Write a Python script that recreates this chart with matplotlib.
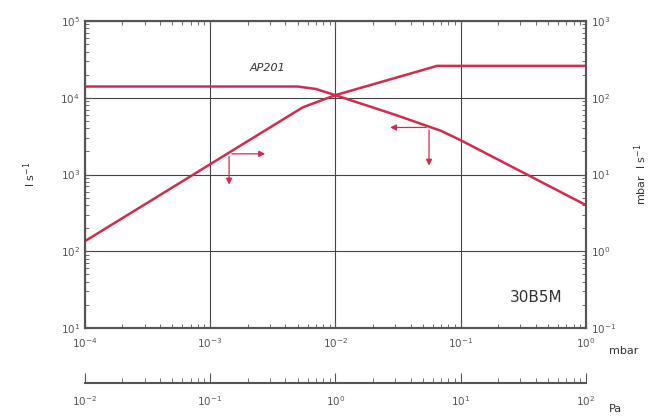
import matplotlib
matplotlib.use("Agg")
import matplotlib.pyplot as plt
from matplotlib.ticker import LogLocator, NullFormatter
import numpy as np

# pumping speed S (l/s), read on the left axis
p_speed = [1e-4, 5e-3, 7e-3, 1e-2, 3e-2, 7e-2, 1e-1, 1e0]
speed = [1.4e4, 1.4e4, 1.3e4, 1.08e4, 6.0e3, 3.7e3, 2.8e3, 4.0e2]

# throughput Q (mbar l/s), read on the right axis
p_flow = [1e-4, 5.5e-3, 1e-2, 6.5e-2, 1e0]
flow = [1.35, 75, 108, 260, 260]

# arrow helpers: (start x, start y, horizontal tip x, vertical tip y), left axis units
arrow_q = (1.42e-3, 1.86e3, 2.9e-3, 6.8e2)
arrow_s = (5.6e-2, 4.1e3, 2.6e-2, 1.2e3)

mbar_ticks = [1e-4, 1e-3, 1e-2, 1e-1, 1e0]
pa_ticks = [1e-2, 1e-1, 1e0, 1e1, 1e2]

red = "#d42a4e"
grey = "#555555"

fig = plt.figure(figsize=(6.62, 4.19), dpi=100)
ax = fig.add_axes([0.128, 0.217, 0.757, 0.733])
ax.set_xscale("log")
ax.set_yscale("log")
ax.set_xlim(1e-4, 1e0)
ax.set_ylim(1e1, 1e5)

ax.plot(p_speed, speed, color=red, lw=1.8)

ax2 = ax.twinx()
ax2.set_yscale("log")
ax2.set_ylim(1e-1, 1e3)
ax2.plot(p_flow, flow, color=red, lw=1.8)

ax.grid(True, which="major", color="#444444", lw=0.8)

for a in (ax, ax2):
    for s in a.spines.values():
        s.set_color(grey)
        s.set_linewidth(1.5)
    a.tick_params(which="both", direction="in", colors=grey, labelsize=7.5)
    a.tick_params(which="major", length=5)
    a.tick_params(which="minor", length=3)
    a.yaxis.set_minor_locator(LogLocator(base=10, subs=np.arange(2, 10), numticks=20))
    a.yaxis.set_minor_formatter(NullFormatter())
ax.tick_params(top=True, right=False, which="both")
ax.xaxis.set_minor_locator(LogLocator(base=10, subs=np.arange(2, 10), numticks=20))
ax.xaxis.set_minor_formatter(NullFormatter())
ax.set_xticks(mbar_ticks)
ax.tick_params(axis="x", pad=6)

# arrows
for x0, y0, xh, yv in (arrow_q, arrow_s):
    ax.annotate("", xy=(xh, y0), xytext=(x0, y0),
                arrowprops=dict(arrowstyle="-|>", color=red, lw=0.9, mutation_scale=9))
    ax.annotate("", xy=(x0, yv), xytext=(x0, y0),
                arrowprops=dict(arrowstyle="-|>", color=red, lw=0.9, mutation_scale=9))

ax.text(2.9e-3, 2.45e4, "AP201", fontsize=8, color="#333333", ha="center", va="center",
        style="italic")
ax.text(0.90, 0.10, "30B5M", transform=ax.transAxes, fontsize=11, color="#333333",
        ha="center", va="center")

ax.set_ylabel("l s$^{-1}$", color="#333333", fontsize=8, labelpad=16)
ax2.set_ylabel("mbar  l s$^{-1}$", color="#333333", fontsize=8, labelpad=12)
fig.text(0.92, 0.163, "mbar", fontsize=8, color="#333333", va="center")

# second pressure scale in Pa
ax3 = fig.add_axes([0.128, 0.086, 0.757, 0.001])
ax3.set_xscale("log")
ax3.set_xlim(1e-2, 1e2)
ax3.set_yticks([])
for k in ("top", "left", "right"):
    ax3.spines[k].set_visible(False)
ax3.spines["bottom"].set_color(grey)
ax3.spines["bottom"].set_linewidth(1.5)
ax3.set_xticks(pa_ticks)
ax3.xaxis.set_minor_locator(LogLocator(base=10, subs=np.arange(2, 10), numticks=20))
ax3.xaxis.set_minor_formatter(NullFormatter())
ax3.tick_params(which="both", direction="in", colors=grey, labelsize=7.5, pad=8)
ax3.tick_params(which="major", length=7)
ax3.tick_params(which="minor", length=3.5)
fig.text(0.92, 0.025, "Pa", fontsize=8, color="#333333", va="center")

fig.savefig("out.png", dpi=100)
